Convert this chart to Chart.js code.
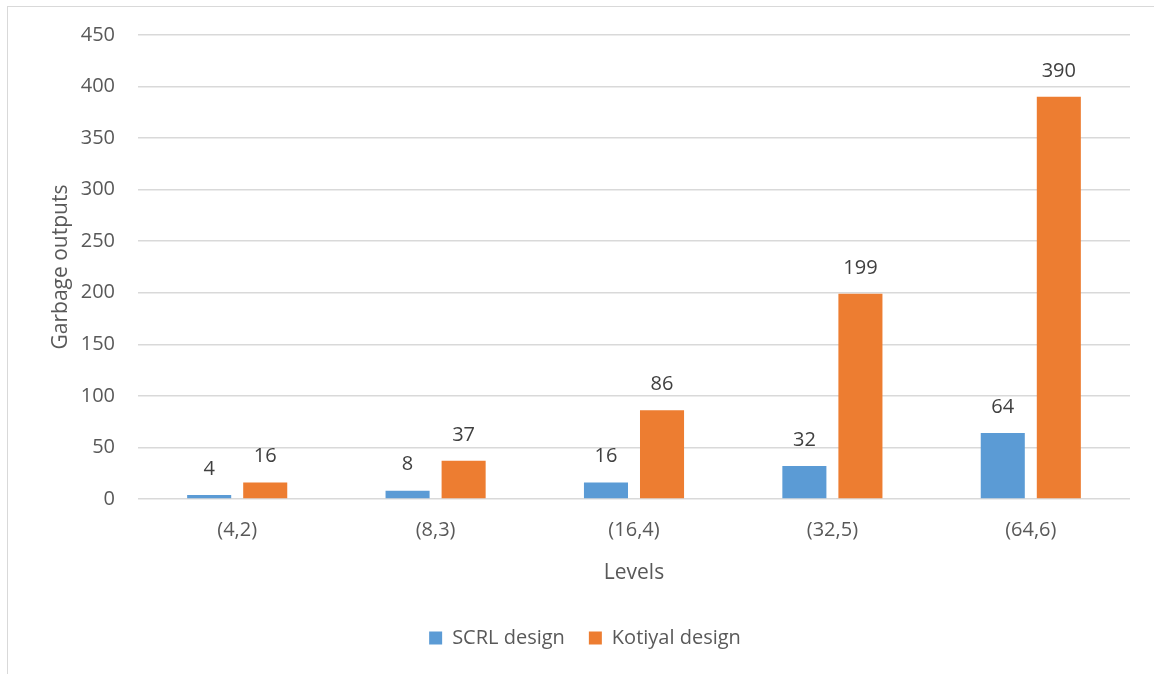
<!DOCTYPE html>
<html>
<head>
<meta charset="utf-8">
<title>Garbage outputs</title>
<script src="https://cdn.jsdelivr.net/npm/chart.js@4"></script>
<style>
  html, body { margin: 0; padding: 0; background: #fff; overflow: hidden; }
  .frame { position: absolute; left: 7px; top: 6px; width: 1400px; height: 900px; border: 1px solid #d9d9d9; box-sizing: border-box; pointer-events: none; }
  .wrap { position: absolute; left: 0; top: 0; width: 1154px; height: 674px; }
</style>
</head>
<body>
<div class="wrap"><canvas id="garbageChart" width="1154" height="674"></canvas></div>
<div class="frame"></div>
<script>
const levels = ["(4,2)", "(8,3)", "(16,4)", "(32,5)", "(64,6)"];
const scrlValues = [4, 8, 16, 32, 64];
const kotiyalValues = [16, 37, 86, 199, 390];
const yTicks = [0, 50, 100, 150, 200, 250, 300, 350, 400, 450];

const FONT = "'Open Sans', sans-serif";
const TEXT_GRAY = "#595959";

// value labels above each bar
const barLabels = {
    id: "barLabels",
    afterDatasetsDraw(chart) {
        const ctx = chart.ctx;
        ctx.save();
        ctx.font = "20px " + FONT;
        ctx.fillStyle = "#404040";
        ctx.textAlign = "center";
        ctx.textBaseline = "middle";
        chart.data.datasets.forEach((ds, i) => {
            chart.getDatasetMeta(i).data.forEach((bar, j) => {
                ctx.fillText(ds.data[j], bar.x, bar.y - 26);
            });
        });
        ctx.restore();
    }
};

const ctx = document.getElementById("garbageChart").getContext("2d");
new Chart(ctx, {
    type: "bar",
    data: {
        labels: levels,
        datasets: [
            {
                label: "SCRL design",
                data: scrlValues,
                backgroundColor: "#5b9bd5",
                categoryPercentage: 0.565,
                barPercentage: 0.786
            },
            {
                label: "Kotiyal design",
                data: kotiyalValues,
                backgroundColor: "#ed7d31",
                categoryPercentage: 0.565,
                barPercentage: 0.786
            }
        ]
    },
    options: {
        responsive: false,
        animation: false,
        layout: { padding: { left: 40, right: 24, top: 34, bottom: 16 } },
        plugins: {
            legend: {
                position: "bottom",
                labels: {
                    font: { family: FONT, size: 20 },
                    color: TEXT_GRAY,
                    boxWidth: 13,
                    boxHeight: 13,
                    padding: 24
                }
            },
            tooltip: { enabled: false }
        },
        scales: {
            x: {
                grid: { display: false },
                border: { display: false },
                ticks: {
                    font: { family: FONT, size: 20 },
                    color: TEXT_GRAY,
                    padding: 11
                },
                title: {
                    display: true,
                    text: "Levels",
                    font: { family: FONT, size: 21 },
                    color: TEXT_GRAY,
                    padding: { top: 0, bottom: 18 }
                },
                afterFit(scale) { scale.height = 105; }
            },
            y: {
                min: 0,
                max: 450,
                afterBuildTicks(scale) { scale.ticks = yTicks.map(v => ({ value: v })); },
                grid: { color: "#d9d9d9", drawTicks: false, lineWidth: 1.5 },
                border: { display: false },
                ticks: {
                    font: { family: FONT, size: 20 },
                    color: TEXT_GRAY,
                    padding: 23
                },
                title: {
                    display: true,
                    text: "Garbage outputs",
                    font: { family: FONT, size: 21 },
                    color: TEXT_GRAY,
                    padding: { top: 8, bottom: 0 }
                },
                afterFit(scale) { scale.width = 98; }
            }
        }
    },
    plugins: [barLabels]
});
</script>
</body>
</html>
